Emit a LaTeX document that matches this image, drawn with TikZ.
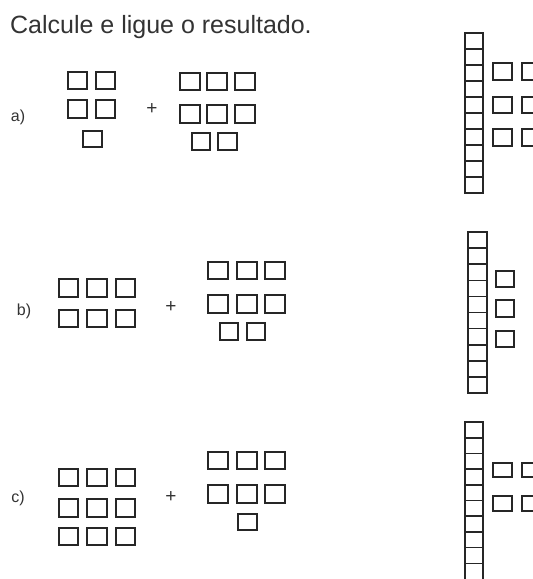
\documentclass[tikz,border=0pt]{standalone}
\usepackage{fontspec}
\setmainfont{Liberation Sans}
\begin{document}
\begin{tikzpicture}[x=1pt,y=-1pt,
  sq/.style={draw=black!85,line width=1.7pt},
  col/.style={draw=black!85,line width=1.6pt},
  lbl/.style={text=black!80,font=\fontsize{16}{16}\selectfont,inner sep=0pt},
  plus/.style={text=black!80,font=\fontsize{19}{19}\selectfont,inner sep=0pt},
  title/.style={text=black!80,font=\fontsize{25}{25}\selectfont,inner sep=0pt,anchor=base west}]
\useasboundingbox (0,0) rectangle (533,579);
\clip (0,0) rectangle (533,579);
% title
\node[title] (t) at (10,33) {Calcule e ligue o resultado.};
% labels
\node[lbl] (la) at (18,117) {a)};
\node[lbl] (lb) at (24,311) {b)};
\node[lbl] (lc) at (18,498) {c)};
% plus signs
\node[plus] (pa) at (152,109) {+};
\node[plus] (pb) at (171,307) {+};
\node[plus] (pc) at (171,497) {+};
% group a
\foreach \x/\y/\X/\Y in {68/72/87/89, 96/72/115/89, 68/100/87/118, 96/100/115/118, 83/131/102/147,
  180/73/200/90, 207/73/227/90, 235/73/255/90, 180/105/200/123, 207/105/227/123, 235/105/255/123,
  192/133/210/150, 218/133/237/150}
  \draw[sq] (\x,\y) rectangle (\X,\Y);
% group b
\foreach \y/\Y in {279/297, 310/327}
  \foreach \x/\X in {59/78, 87/107, 116/135}
    \draw[sq] (\x,\y) rectangle (\X,\Y);
\foreach \y/\Y in {262/279, 295/313}
  \foreach \x/\X in {208/228, 237/257, 265/285}
    \draw[sq] (\x,\y) rectangle (\X,\Y);
\foreach \x/\X in {220/238, 247/265}
  \draw[sq] (\x,323) rectangle (\X,340);
% group c
\foreach \y/\Y in {469/486, 499/517, 528/545}
  \foreach \x/\X in {59/78, 87/107, 116/135}
    \draw[sq] (\x,\y) rectangle (\X,\Y);
\foreach \y/\Y in {452/469, 485/503}
  \foreach \x/\X in {208/228, 237/257, 265/285}
    \draw[sq] (\x,\y) rectangle (\X,\Y);
\draw[sq] (238,514) rectangle (257,530);
% tall column A
\draw[col] (465,33) rectangle (483,193);
\foreach \i in {1,...,9} \draw[col] (465,33+16*\i) -- (483,33+16*\i);
\foreach \y/\Y in {63/80, 97/113, 129/146}
  \foreach \x/\X in {493/512, 522/541}
    \draw[sq] (\x,\y) rectangle (\X,\Y);
% tall column B
\draw[col] (468,232) rectangle (487,393);
\foreach \i in {1,...,9} \draw[col] (468,232+16.1*\i) -- (487,232+16.1*\i);
\foreach \y/\Y in {271/287, 300/317, 331/347}
  \draw[sq] (496,\y) rectangle (514,\Y);
% tall column C
\draw[col] (465,422) rectangle (483,580);
\foreach \i in {1,...,9} \draw[col] (465,422+15.7*\i) -- (483,422+15.7*\i);
\foreach \y/\Y in {463/477, 496/511}
  \foreach \x/\X in {493/512, 522/541}
    \draw[sq] (\x,\y) rectangle (\X,\Y);
\end{tikzpicture}
\end{document}
